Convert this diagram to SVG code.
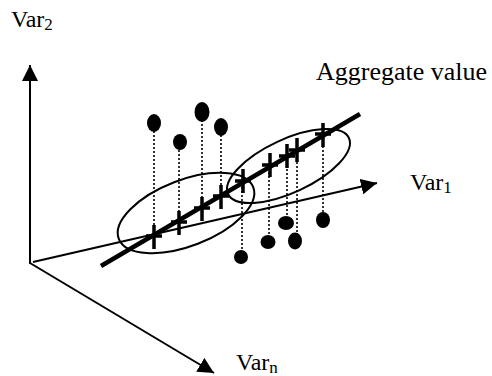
<svg xmlns="http://www.w3.org/2000/svg" width="492" height="376" viewBox="0 0 492 376">
<style>
.ax{stroke:#000;stroke-width:2;fill:none}
.reg{stroke:#000;stroke-width:4.5;fill:none}
.ell{stroke:#000;stroke-width:2;fill:none}
.dot{fill:#000}
.dash{stroke:#000;stroke-width:1.6;stroke-dasharray:2 2;fill:none}
.cr{stroke:#000;stroke-width:3.5;fill:none}
.t{font-family:"Liberation Serif","Times New Roman",serif;font-size:24px;fill:#000}
.s{font-size:17px}
</style>
<defs>
<marker id="ah" markerUnits="userSpaceOnUse" markerWidth="16" markerHeight="16" refX="16" refY="8" orient="auto">
<path d="M0,0 L16,8 L0,16 z" fill="#000"/>
</marker>
</defs>
<g id="axes">
<line class="ax" x1="30" y1="264" x2="30" y2="65" marker-end="url(#ah)"/>
<line class="ax" x1="33" y1="262" x2="377" y2="183" marker-end="url(#ah)"/>
<line class="ax" x1="30" y1="263" x2="214" y2="373" marker-end="url(#ah)"/>
</g>
<g id="ellipses">
<ellipse class="ell" cx="186" cy="213" rx="72" ry="33" transform="rotate(-21 186 213)"/>
<ellipse class="ell" cx="288.5" cy="166" rx="66.6" ry="26.6" transform="rotate(-24.9 288.5 166)"/>
</g>
<g id="connectors">
<line class="dash" x1="154" y1="123" x2="154" y2="236"/>
<line class="dash" x1="179" y1="142" x2="179" y2="222"/>
<line class="dash" x1="202" y1="112" x2="202" y2="208"/>
<line class="dash" x1="221" y1="127" x2="221" y2="196"/>
<line class="dash" x1="242" y1="257" x2="242" y2="183"/>
<line class="dash" x1="269" y1="242" x2="269" y2="167"/>
<line class="dash" x1="287" y1="223" x2="287" y2="157"/>
<line class="dash" x1="297" y1="240" x2="297" y2="151"/>
<line class="dash" x1="323" y1="220" x2="323" y2="135"/>
</g>
<g id="regression">
<line class="reg" x1="101" y1="266" x2="360" y2="114"/>
</g>
<g id="crosses">
<path class="cr" d="M154,225v24M146,236h16"/>
<path class="cr" d="M179,211v24M171,222h16"/>
<path class="cr" d="M202,197v24M194,208h16"/>
<path class="cr" d="M221,185v24M213,196h16"/>
<path class="cr" d="M243,169v24M235,181h16"/>
<path class="cr" d="M270,153v24M262,165h16"/>
<path class="cr" d="M287,144v24M279,156h16"/>
<path class="cr" d="M297,138v24M289,150h16"/>
<path class="cr" d="M323,123v24M315,134h16"/>
</g>
<g id="dots">
<ellipse class="dot" cx="154" cy="123" rx="7" ry="9"/>
<ellipse class="dot" cx="180" cy="142" rx="7" ry="8"/>
<ellipse class="dot" cx="202" cy="112" rx="7.5" ry="10"/>
<ellipse class="dot" cx="221" cy="127" rx="7" ry="9"/>
<ellipse class="dot" cx="241" cy="257" rx="7" ry="7"/>
<ellipse class="dot" cx="268" cy="242" rx="7.5" ry="7"/>
<ellipse class="dot" cx="286" cy="223" rx="8" ry="7"/>
<ellipse class="dot" cx="295" cy="241" rx="7" ry="8.5"/>
<ellipse class="dot" cx="323" cy="220" rx="7" ry="8"/>
</g>
<g id="labels">
<text class="t" x="11" y="27">Var<tspan class="s" dy="3">2</tspan></text>
<text class="t" x="316" y="80" style="font-size:26px">Aggregate value</text>
<text class="t" x="410" y="190">Var<tspan class="s" dy="3">1</tspan></text>
<text class="t" x="236" y="370">Var<tspan class="s" dy="3">n</tspan></text>
</g>
</svg>
